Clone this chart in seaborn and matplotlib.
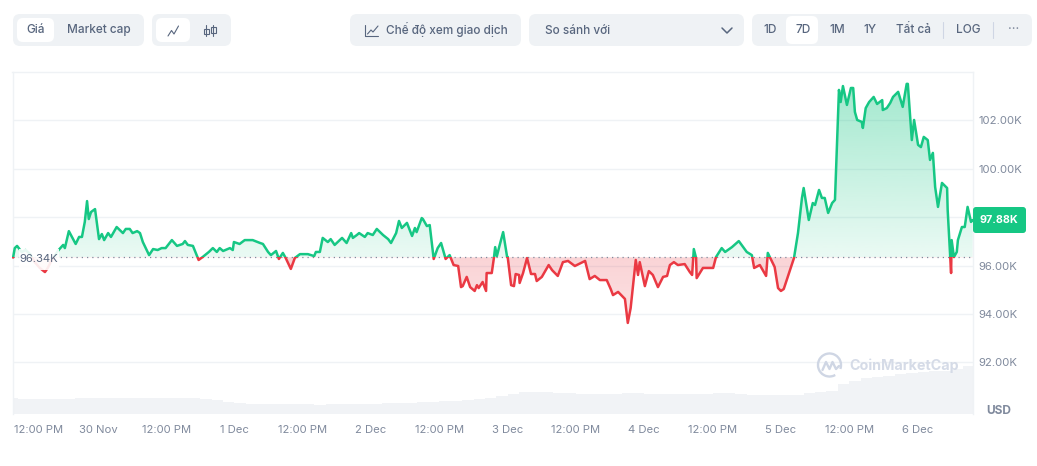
import numpy as np
import pandas as pd
import matplotlib
matplotlib.use("Agg")
import matplotlib.pyplot as plt
import seaborn as sns
from matplotlib.patches import FancyBboxPatch, Rectangle, Arc

# price curve, hours counted from 30 Nov 00:00, price in thousands of USD
hours = [-14.9, -14.6, -14.2, -13.9, -13.4, -12.7, -11.9, -11.1, -10.2, -9.3, -8.8, -8.1, -7.4, -6.9, -6.1, -5.8,
         -5.1, -3.9, -3.3, -2.8, -2.3, -1.9, -1.6, -1.2, -0.5, 0.2, 0.7, 1.1, 1.8, 2.3, 3.3, 4.4, 4.9, 5.6, 6.1,
         6.9, 7.4, 7.9, 9.0, 9.7, 10.5, 11.2, 11.9, 13.0, 13.9, 14.9, 15.3, 15.8, 16.7, 17.7, 18.4, 19.5, 20.2,
         20.9, 21.4, 22.0, 23.2, 23.7, 23.9, 24.9, 25.8, 27.2, 28.5, 29.0, 29.9, 30.4, 31.3, 31.8, 32.5, 33.0,
         33.9, 34.6, 35.5, 36.9, 38.0, 38.3, 39.0, 39.5, 40.4, 40.9, 41.6, 42.9, 43.7, 44.5, 44.8, 45.5, 45.9,
         46.9, 47.4, 48.3, 49.0, 50.1, 51.0, 51.5, 52.4, 52.9, 53.4, 54.3, 55.2, 55.7, 56.0, 56.9, 57.1, 57.8,
         58.3, 59.0, 59.7, 60.3, 61.1, 61.8, 62.5, 63.3, 63.8, 64.1, 64.8, 65.4, 66.2, 66.6, 66.9, 67.6, 68.2,
         68.3, 69.2, 69.6, 69.8, 70.1, 70.6, 71.2, 71.9, 72.0, 72.6, 73.1, 73.4, 74.0, 74.1, 74.7, 75.4, 76.1,
         76.8, 77.1, 78.0, 79.2, 79.8, 80.8, 81.7, 82.6, 83.8, 85.6, 86.4, 87.3, 88.2, 89.4, 90.1, 90.5, 91.4,
         92.6, 93.1, 93.6, 94.5, 94.9, 95.2, 96.1, 96.8, 97.5, 98.4, 99.3, 100.0, 100.5, 101.2, 101.9, 103.1,
         104.0, 104.4, 104.7, 105.1, 105.2, 106.3, 108.1, 108.6, 109.6, 110.2, 111.4, 112.6, 114.0, 114.9, 115.3,
         116.3, 117.4, 117.7, 118.9, 119.5, 120.0, 120.5, 121.6, 122.3, 123.0, 123.7, 124.0, 124.9, 125.6, 126.0,
         126.7, 127.2, 127.7, 128.3, 129.0, 129.5, 130.2, 130.5, 130.9, 131.6, 132.3, 132.7, 133.0, 133.4, 134.2,
         134.4, 134.9, 135.5, 136.3, 136.9, 137.8, 137.9, 138.6, 139.2, 139.7, 140.6, 141.4, 142.1, 142.3, 143.0,
         143.4, 144.1, 144.6, 145.1, 145.8, 146.2, 146.7, 147.1, 147.6, 148.3, 149.2, 149.3, 149.9, 150.0, 150.4,
         150.9, 151.1, 151.8, 152.3, 152.8, 153.4, 153.7]
prices = [96.33, 96.72, 96.81, 96.72, 96.56, 96.64, 96.47, 96.14, 95.90, 95.73, 95.90, 96.23, 96.47, 96.64, 96.85, 96.72,
          97.42, 96.89, 97.18, 97.18, 97.80, 98.66, 97.92, 98.21, 98.33, 97.09, 97.30, 97.05, 97.34, 97.18, 97.59, 97.34, 97.51, 97.51, 97.34,
          97.42, 97.34, 96.97, 96.43, 96.68, 96.64, 96.72, 96.72, 97.05, 96.81, 96.89, 97.01, 96.85, 96.81, 96.23, 96.35, 96.56, 96.72,
          96.56, 96.72, 96.60, 96.72, 96.64, 96.97, 96.89, 97.05, 97.05, 96.93, 96.89, 96.56, 96.43, 96.60, 96.27, 96.52, 96.31,
          95.86, 96.31, 96.47, 96.47, 96.39, 96.56, 96.56, 97.14, 96.97, 97.09, 96.85, 97.14, 96.93, 97.34, 97.14, 97.26, 97.34,
          97.18, 97.34, 97.26, 97.51, 97.26, 97.09, 96.93, 97.34, 97.84, 97.55, 97.76, 97.22, 97.55, 97.38, 97.96, 97.92, 97.63,
          97.67, 96.27, 96.72, 96.93, 96.27, 96.43, 96.02, 95.98, 95.11, 95.15, 95.53, 95.11, 94.95, 95.19, 95.07, 95.32, 94.95,
          95.69, 95.69, 96.35, 96.76, 96.39, 96.85, 97.38, 96.35, 96.35, 95.19, 95.15, 95.65, 95.61, 95.28, 95.69, 96.31, 95.65,
          95.65, 95.36, 95.53, 96.02, 95.81, 95.57, 96.14, 96.19, 95.98, 96.19, 95.44, 95.57, 95.40, 95.40, 95.03, 94.78, 94.91,
          94.62, 93.63, 94.24, 96.23, 95.61, 96.14, 95.15, 95.77, 95.61, 95.11, 95.53, 95.57, 96.02, 96.14, 96.02, 96.06,
          95.73, 95.61, 96.68, 96.31, 95.48, 95.90, 95.90, 96.35, 96.72, 96.56, 96.76, 97.01, 96.56, 96.43, 95.90,
          96.02, 95.57, 96.52, 95.94, 95.07, 94.95, 95.03, 95.81, 96.31, 97.34, 98.79, 99.20, 97.88, 98.58, 98.50,
          99.12, 98.79, 98.79, 98.17, 98.58, 98.71, 103.25, 102.75, 103.41, 102.63, 103.33, 103.33, 102.34, 102.01, 101.93,
          101.68, 102.50, 102.75, 102.96, 102.67, 102.83, 102.42, 102.50, 102.71, 102.96, 103.17, 102.55, 103.50, 103.50, 101.18,
          102.01, 100.98, 100.89, 101.31, 101.18, 100.36, 100.65, 99.24, 98.42, 99.41, 99.20, 98.29, 95.69, 97.05, 96.35,
          96.56, 97.05, 97.59, 97.59, 98.42, 97.80, 97.88]

# volume strip, one bar per two hours starting at -15 h (relative units)
volume = [16, 15, 15, 15, 15, 15, 16, 16.5, 16.5, 16.5, 16.5, 16.5, 16.5, 16.5, 16.5, 16.5, 16, 15, 14.5, 12.5, 11.5,
          10, 10, 10, 10, 10, 10, 9, 10, 10, 10, 10, 10, 11, 11, 11.5, 12, 12, 13, 13.5, 14, 15, 16, 18, 20, 22, 22.5,
          22.5, 21, 21, 20, 20, 20, 20, 21, 21.5, 20.5, 20.5, 20.5, 20.5, 20.5, 20.5, 21, 21, 20.5, 19.5, 19, 19, 19,
          19, 21, 22, 23, 30, 33, 36, 37, 38, 40, 41, 42, 43, 43, 45, 48]

base_price = 96.34
last_price = 97.88
y_ticks = [92, 94, 96, 98, 100, 102]
x_ticks = [-10.5, 0, 12, 24, 36, 48, 60, 72, 84, 96, 108, 120, 132, 144]
x_labels = ["12:00 PM", "30 Nov", "12:00 PM", "1 Dec", "12:00 PM", "2 Dec", "12:00 PM", "3 Dec",
            "12:00 PM", "4 Dec", "12:00 PM", "5 Dec", "12:00 PM", "6 Dec"]

GREEN = "#16c784"
RED = "#ea3943"
GRID = "#eff2f5"
LABEL = "#808a9d"
BTN_TEXT = "#58667e"
BTN_BG = "#eff2f5"

sns.set_theme(style="white")
plt.rcParams['font.family'] = ['Inter', 'DejaVu Sans']

W, H = 1037, 466
fig = plt.figure(figsize=(W / 100, H / 100), dpi=100)
rect = [12.5 / W, 1 - 414 / H, (973 - 12.5) / W, (414 - 72) / H]

ax_vol = fig.add_axes(rect, zorder=1)
ax = fig.add_axes(rect, zorder=2)
ax.patch.set_alpha(0)

xlim = (-15.0, 153.75)
ylim = (89.87, 103.99)

# volume bars
vol_x = np.arange(len(volume)) * 2 - 15
ax_vol.bar(vol_x, volume, width=2.0, color="#f1f3f6", linewidth=0)
ax_vol.set_xlim(*xlim)
ax_vol.set_ylim(0, 342)
ax_vol.axis("off")

# price line, split in two colours at the open price
df = pd.DataFrame({"hours": hours, "price": prices})
sns.lineplot(data=df, x="hours", y="price", color=GREEN, linewidth=1.8, errorbar=None, ax=ax, zorder=4)
sns.lineplot(data=df, x="hours", y="price", color=RED, linewidth=1.8, errorbar=None, ax=ax, zorder=4)
up_line, down_line = ax.lines[0], ax.lines[1]
up_line.set_clip_path(Rectangle((xlim[0], base_price), xlim[1] - xlim[0], ylim[1] - base_price, transform=ax.transData))
down_line.set_clip_path(Rectangle((xlim[0], ylim[0]), xlim[1] - xlim[0], base_price - ylim[0], transform=ax.transData))

# gradient fills under the curve
poly = ax.fill_between(hours, prices, base_price, color="none", linewidth=0)
clip = poly.get_paths()[0]
def gradient(rgb, a0, a1, y0, y1):
    grad = np.zeros((256, 1, 4))
    grad[..., :3] = matplotlib.colors.to_rgb(rgb)
    grad[:, 0, 3] = np.linspace(a0, a1, 256)
    im = ax.imshow(grad, origin="lower", aspect="auto", extent=(xlim[0], xlim[1], y0, y1), zorder=2)
    im.set_clip_path(clip, transform=ax.transData)
gradient(GREEN, 0.09, 0.40, base_price, 103.6)
gradient(RED, 0.15, 0.22, 93.6, base_price)

ax.axhline(base_price, color="#7f8a9c", linewidth=0.9, linestyle=(0, (1, 3.2)), zorder=3)

ax.set_xlim(*xlim)
ax.set_ylim(*ylim)
ax.set_yticks(y_ticks)
# the 98K label sits under the last price tag, so it stays empty
ax.set_yticklabels(["" if v == 98 else f"{v:.2f}K" for v in y_ticks])
ax.set_xticks(x_ticks)
ax.set_xticklabels(x_labels)
ax.yaxis.tick_right()
ax.set_xlabel("")
ax.set_ylabel("")
ax.grid(axis="y", color=GRID, linewidth=1)
ax.set_axisbelow(True)
ax.tick_params(axis="x", length=0, pad=8, labelsize=8.1, labelcolor=LABEL)
ax.tick_params(axis="y", length=0, pad=4, labelsize=8.2, labelcolor=LABEL)
for name, sp in ax.spines.items():
    sp.set_color(GRID)
    sp.set_linewidth(1)
ax.spines["bottom"].set_visible(False)

# overlay in pixel coordinates for the toolbar, tags and watermark
ui = fig.add_axes([0, 0, 1, 1], zorder=5)
ui.set_xlim(0, W)
ui.set_ylim(H, 0)
ui.axis("off")
ui.patch.set_alpha(0)

def box(x0, y0, x1, y1, color, r=7):
    ui.add_patch(FancyBboxPatch((x0 + r, y0 + r), x1 - x0 - 2 * r, y1 - y0 - 2 * r,
                                boxstyle=f"round,pad={r},rounding_size={r}", fc=color, ec="none"))

def label(x, y, s, ha="center", color=BTN_TEXT, size=8.5, weight="medium"):
    ui.text(x, y, s, ha=ha, va="center", color=color, fontsize=size, fontweight=weight)

box(13, 14, 144, 46, BTN_BG)
box(17, 18, 54, 42, "white", 6)
label(36, 30, "Giá")
label(98.5, 30, "Market cap")

box(152, 14, 231, 46, BTN_BG)
box(156, 18, 190, 42, "white", 6)
ui.plot([168, 171.5, 174, 178.5], [36, 30.5, 34, 26], color=BTN_TEXT, lw=0.8)
for cx, y0, y1, b0, b1 in [(206, 25, 36, 29, 34), (213, 25, 36, 27, 33)]:
    ui.plot([cx, cx], [y0, y1], color=BTN_TEXT, lw=0.8)
    ui.add_patch(Rectangle((cx - 2.5, b0), 5, b1 - b0, fc="none", ec=BTN_TEXT, lw=0.8))

box(350, 14, 521, 46, BTN_BG)
ui.plot([365, 365, 378], [25, 36, 36], color=BTN_TEXT, lw=0.8)
ui.plot([367.5, 371, 373, 378], [34, 30, 32, 26], color=BTN_TEXT, lw=0.8)
label(386, 30, "Chế độ xem giao dịch", ha="left")

box(529, 14, 744, 46, BTN_BG)
label(545, 31, "So sánh với", ha="left")
ui.plot([722, 727, 732], [28, 33, 28], color=BTN_TEXT, lw=1.1)

box(752, 14, 1032, 46, BTN_BG)
box(786, 16, 818, 44, "white", 6)
for cx, s in [(770, "1D"), (803, "7D"), (837, "1M"), (870, "1Y"), (913, "Tất cả"), (968, "LOG")]:
    label(cx, 30, s)
for sx in [943, 993]:
    ui.plot([sx, sx], [22, 38], color="#cfd6e4", lw=0.8)
label(1014, 29, "···", color="#808a9d")

# open price tag over the curve
ui.add_patch(Rectangle((19, 249), 40, 21, fc="white", ec="none", alpha=0.9))
ui.text(38.5, 258.5, f"{base_price:.2f}K", ha="center", va="center", color=BTN_TEXT, fontsize=8.1)

# last price tag
box(973, 207, 1026, 233, GREEN, 3)
label(979, 220, f"{last_price:.2f}K", ha="left", color="white", size=7.8, weight="bold")
label(999, 411, "USD", color=LABEL, size=8.6, weight="bold")

# watermark
WM = "#cfd6e4"
ui.add_patch(Arc((829.5, 365), 23, 23, theta1=60, theta2=20, color=WM, lw=1.7))
ui.plot([822.5, 826, 829.5, 832.5, 836, 839], [370, 362, 369, 362, 369, 366], color=WM, lw=1.7)
ui.text(849, 366, "CoinMarketCap", ha="left", va="center", color="#d5dbe7", fontsize=10.3, fontweight="bold")

fig.savefig("out.png", dpi=100)
